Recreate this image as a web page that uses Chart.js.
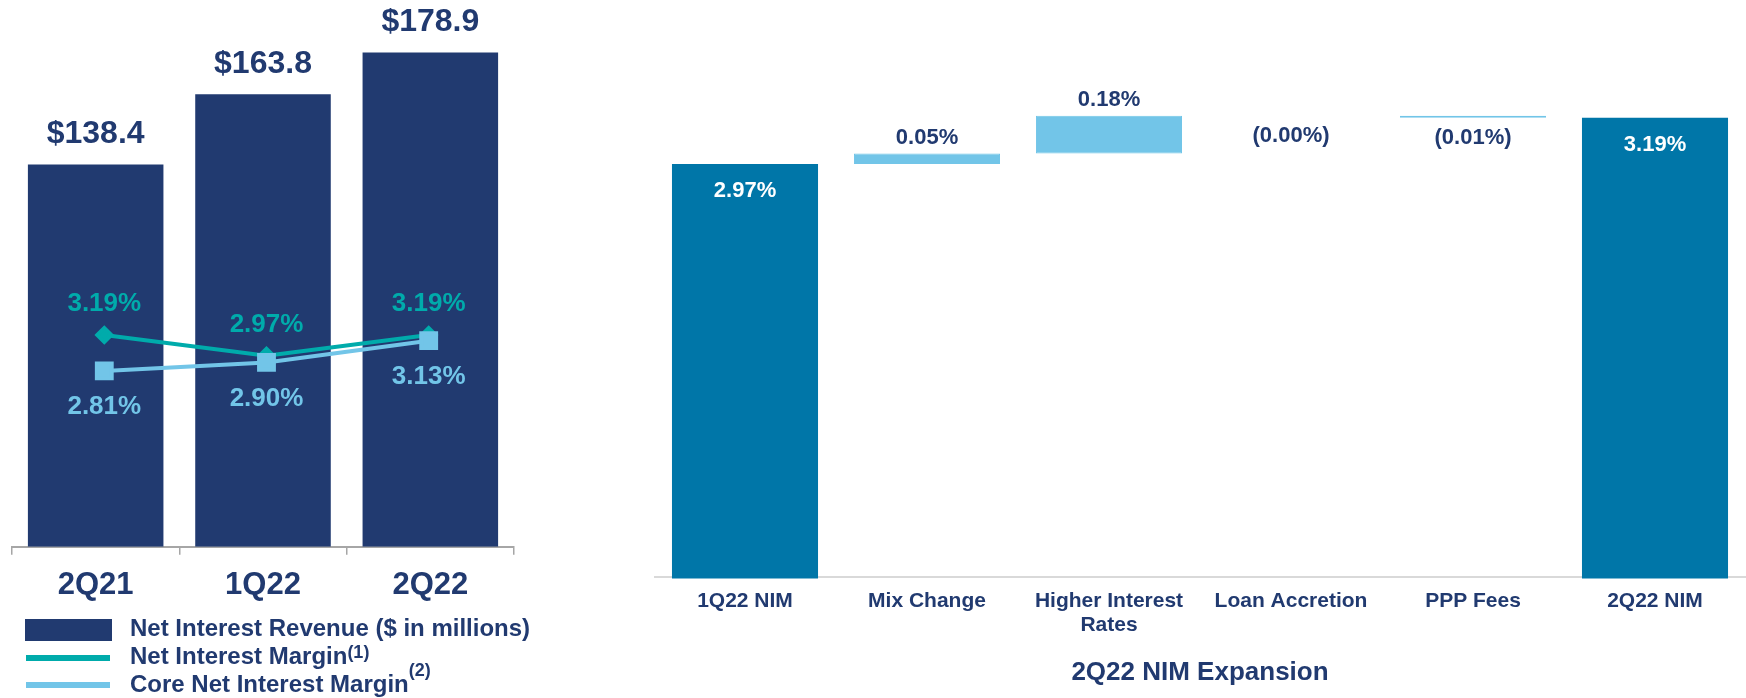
<!DOCTYPE html>
<html>
<head>
<meta charset="utf-8">
<script src="https://cdn.jsdelivr.net/npm/chart.js@4"></script>
<style>
  body { margin: 0; width: 1746px; height: 698px; overflow: hidden; background: #fff; position: relative;
         font-family: "Liberation Sans", Arial, sans-serif; }
  canvas { position: absolute; }
  #revChart { left: 8px; top: 0; }
  #nimChart { left: 654px; top: 0; }
  .sw { position: absolute; left: 26px; width: 84px; height: 6px; }
  .lg { position: absolute; left: 130px; font-weight: 700; font-size: 24px; line-height: 26px; color: #213A70; white-space: nowrap; }
  .lg sup { font-size: 18px; vertical-align: baseline; position: relative; }
</style>
</head>
<body>
<canvas id="revChart" width="510" height="616"></canvas>
<canvas id="nimChart" width="1092" height="698"></canvas>

<div style="position:absolute;left:25px;top:619px;width:87px;height:22px;background:#213A70"></div>
<div class="sw" style="top:655px;background:#00ABAB"></div>
<div class="sw" style="top:682px;background:#72C5E8"></div>
<div class="lg" style="top:615px">Net Interest Revenue ($ in millions)</div>
<div class="lg" style="top:643px">Net Interest Margin<sup style="top:-6px">(1)</sup></div>
<div class="lg" style="top:671px">Core Net Interest Margin<sup style="top:-16px">(2)</sup></div>

<script>
// left chart data
const quarters = ['2Q21', '1Q22', '2Q22'];
const revenue = [138.4, 163.8, 178.9];
const nim = [3.19, 2.97, 3.19];
const coreNim = [2.81, 2.90, 3.13];

// right chart (waterfall) data
const steps = ['1Q22 NIM', 'Mix Change', ['Higher Interest', 'Rates'], 'Loan Accretion', 'PPP Fees', '2Q22 NIM'];
const nimStart = 2.97;
const nimChanges = [0.05, 0.18, 0.00, -0.01];
const nimEnd = 3.19;

const NAVY = '#213A70';
const TEAL = '#00ABAB';
const LIGHT = '#72C5E8';
const TOTAL = '#0076A8';

Chart.defaults.font.family = '"Liberation Sans", Arial, sans-serif';
Chart.defaults.font.weight = 'bold';
Chart.defaults.color = NAVY;

const hidden = { display: false, offset: false, ticks: { display: false }, grid: { display: false } };

const revLabels = {
    id: 'revLabels',
    afterDatasetsDraw(chart) {
        const ctx = chart.ctx;
        ctx.save();
        ctx.textAlign = 'center';
        ctx.textBaseline = 'middle';
        ctx.font = 'bold 32px "Liberation Sans", Arial';
        ctx.fillStyle = NAVY;
        chart.getDatasetMeta(0).data.forEach((el, i) => {
            ctx.fillText('$' + revenue[i].toFixed(1), el.x, el.y - 30);
        });
        ctx.font = 'bold 26px "Liberation Sans", Arial';
        ctx.fillStyle = TEAL;
        chart.getDatasetMeta(1).data.forEach((pt, i) => {
            ctx.fillText(nim[i].toFixed(2) + '%', pt.x, pt.y - 31);
        });
        ctx.fillStyle = LIGHT;
        chart.getDatasetMeta(2).data.forEach((pt, i) => {
            ctx.fillText(coreNim[i].toFixed(2) + '%', pt.x, pt.y + 36);
        });
        ctx.restore();
    }
};

new Chart(document.getElementById('revChart'), {
    type: 'bar',
    data: {
        labels: quarters,
        datasets: [{
            label: 'Net Interest Revenue ($ in millions)',
            data: revenue,
            backgroundColor: NAVY,
            grouped: false,
            categoryPercentage: 0.81,
            barPercentage: 1,
            order: 3
        }, {
            type: 'line',
            label: 'Net Interest Margin',
            data: nim.map((v, i) => ({ x: i, y: v })),
            xAxisID: 'xl',
            yAxisID: 'y1',
            borderColor: TEAL,
            backgroundColor: TEAL,
            borderWidth: 4,
            pointStyle: 'rectRot',
            pointRadius: 7,
            order: 2
        }, {
            type: 'line',
            label: 'Core Net Interest Margin',
            data: coreNim.map((v, i) => ({ x: i, y: v })),
            xAxisID: 'xl',
            yAxisID: 'y1',
            borderColor: LIGHT,
            backgroundColor: LIGHT,
            borderWidth: 4,
            pointStyle: 'rect',
            pointRadius: 10.5,
            order: 1
        }]
    },
    options: {
        responsive: false,
        animation: false,
        layout: { autoPadding: false, padding: { left: 4, right: 4, top: 0, bottom: 0 } },
        plugins: { legend: { display: false }, tooltip: { enabled: false } },
        scales: {
            x: {
                offset: true,
                grid: { offset: true, drawOnChartArea: false, drawTicks: true, tickLength: 8, color: '#A6A6A6', lineWidth: 1.5 },
                border: { display: true, color: '#A6A6A6', width: 2 },
                ticks: { padding: 12, color: NAVY, font: { size: 31, weight: 'bold', lineHeight: 1.2 } }
            },
            xl: { ...hidden, type: 'linear', min: -0.569, max: 2.526 },
            y: { ...hidden, min: 0, max: 197.9 },
            y1: { ...hidden, min: 0.949, max: 6.734 }
        }
    },
    plugins: [revLabels]
});

// waterfall ranges from the start value and the step changes
const ranges = [[0, nimStart]];
let run = nimStart;
nimChanges.forEach(c => {
    const from = run;
    run = +(run + c).toFixed(2);
    ranges.push([from, run]);
});
ranges.push([0, nimEnd]);
const isTotal = i => i === 0 || i === ranges.length - 1;

const nimLabels = {
    id: 'nimLabels',
    afterDatasetsDraw(chart) {
        const ctx = chart.ctx;
        ctx.save();
        ctx.textAlign = 'center';
        ctx.textBaseline = 'middle';
        ctx.font = 'bold 22px "Liberation Sans", Arial';
        chart.getDatasetMeta(0).data.forEach((el, i) => {
            const top = Math.min(el.y, el.base);
            const bottom = Math.max(el.y, el.base);
            if (isTotal(i)) {
                const v = i === 0 ? nimStart : nimEnd;
                ctx.fillStyle = '#fff';
                ctx.fillText(v.toFixed(2) + '%', el.x, top + 27);
            } else {
                const c = nimChanges[i - 1];
                ctx.fillStyle = NAVY;
                if (c > 0) ctx.fillText(c.toFixed(2) + '%', el.x, top - 16);
                else ctx.fillText('(' + Math.abs(c).toFixed(2) + '%)', el.x, bottom + 20);
            }
        });
        ctx.restore();
    }
};

new Chart(document.getElementById('nimChart'), {
    type: 'bar',
    data: {
        labels: steps,
        datasets: [{
            label: '2Q22 NIM Expansion',
            data: ranges,
            backgroundColor: ranges.map((r, i) => isTotal(i) ? TOTAL : LIGHT),
            borderColor: ranges.map((r, i) => isTotal(i) ? TOTAL : LIGHT),
            borderWidth: ctx => (isTotal(ctx.dataIndex) || nimChanges[ctx.dataIndex - 1] === 0) ? 0 : 1,
            borderSkipped: false,
            categoryPercentage: 0.8025,
            barPercentage: 1,
            clip: { left: false, right: false, top: false, bottom: 2 }
        }]
    },
    options: {
        responsive: false,
        animation: false,
        layout: { padding: 0 },
        plugins: {
            legend: { display: false },
            tooltip: { enabled: false },
            title: {
                display: true,
                position: 'bottom',
                text: '2Q22 NIM Expansion',
                color: NAVY,
                font: { size: 26, weight: 'bold', lineHeight: 1.2 },
                padding: { top: 7, bottom: 10 }
            }
        },
        scales: {
            x: {
                offset: true,
                grid: { display: false, drawTicks: false },
                border: { display: true, color: '#D9D9D9', width: 2 },
                ticks: { padding: 13.5, color: NAVY, maxRotation: 0, autoSkip: false, font: { size: 21, weight: 'bold', lineHeight: 1.1 } }
            },
            y: { ...hidden, min: 1.0, max: 3.7527 }
        }
    },
    plugins: [nimLabels]
});
</script>
</body>
</html>
